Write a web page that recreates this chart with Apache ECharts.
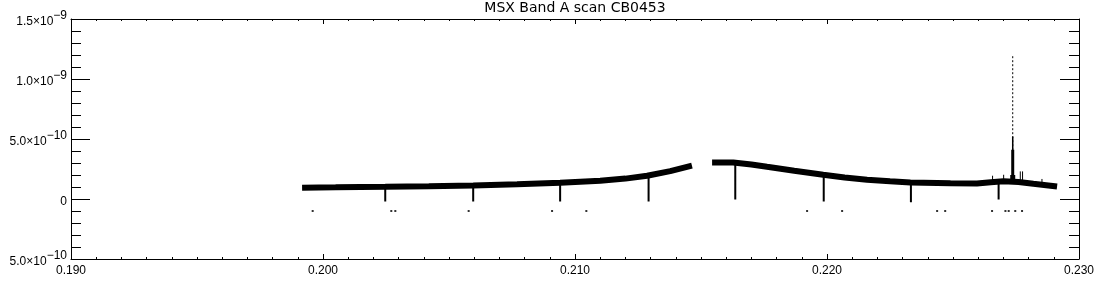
<!DOCTYPE html>
<html>
<head>
<meta charset="utf-8">
<script src="https://cdn.jsdelivr.net/npm/echarts@6/dist/echarts.min.js"></script>
<style>html,body{margin:0;padding:0;background:#fff}#c{width:1100px;height:300px}</style>
</head>
<body>
<div id="c"></div>
<script>
// ---- data ----
const titleText = 'MSX Band A scan CB0453';
const xTickLabels = ['0.190', '0.200', '0.210', '0.220', '0.230'];
const yTickMantissa = ['5.0×10', '0', '5.0×10', '1.0×10', '1.5×10'];
const yTickExponent = ['−10', '', '−10', '−9', '−9'];

// band centre (segment 1 and segment 2)
const band1X = [0.19917, 0.20050, 0.20247, 0.20420, 0.20596, 0.20770, 0.20941, 0.21100, 0.21200, 0.21286, 0.21378, 0.21464];
const band1Y = [0.94e-10, 0.97e-10, 1.02e-10, 1.07e-10, 1.13e-10, 1.22e-10, 1.36e-10, 1.52e-10, 1.70e-10, 1.94e-10, 2.32e-10, 2.78e-10];
const band2X = [0.21544, 0.21628, 0.21700, 0.21762, 0.21870, 0.21985, 0.22070, 0.22159, 0.22250, 0.22331, 0.22490, 0.22595, 0.22650, 0.22700, 0.22760, 0.22819, 0.22870, 0.22913];
const band2Y = [3.05e-10, 3.05e-10, 2.88e-10, 2.69e-10, 2.36e-10, 2.02e-10, 1.80e-10, 1.61e-10, 1.47e-10, 1.37e-10, 1.32e-10, 1.30e-10, 1.40e-10, 1.48e-10, 1.42e-10, 1.27e-10, 1.15e-10, 1.04e-10];

// dips below the band
const dipX = [0.20247, 0.20596, 0.20941, 0.21292, 0.21636, 0.21987, 0.22333, 0.22681];
const dipTop = [1.02e-10, 1.13e-10, 1.36e-10, 1.94e-10, 3.05e-10, 2.02e-10, 1.37e-10, 1.45e-10];
const dipBottom = [-0.2e-10, -0.2e-10, -0.2e-10, -0.2e-10, -0.05e-10, -0.2e-10, -0.28e-10, -0.05e-10];

// narrow noise spikes near the bright source
const noiseX = [0.22657, 0.22701, 0.22767, 0.22776, 0.22853];
const noiseBase = [1.35e-10, 1.40e-10, 1.40e-10, 1.40e-10, 1.25e-10];
const noiseTop = [1.94e-10, 2.02e-10, 2.30e-10, 2.30e-10, 1.67e-10];

// bright source spike
const spikeX = [0.22737];
const spikeBase = [1.40e-10];
const spikePeak = [1.20e-9];
const spikeCore = [5.2e-10];
const spikeThick = [4.1e-10];
const spikeFoot = [2.0e-10];

// isolated low points
const dotX = [0.19959, 0.20271, 0.20287, 0.20578, 0.20909, 0.21045, 0.21921, 0.22060, 0.22437, 0.22469, 0.22655, 0.22708, 0.22721, 0.22747, 0.22774];
const dotY = [-1.0e-10, -1.0e-10, -1.0e-10, -1.0e-10, -1.0e-10, -1.0e-10, -1.0e-10, -1.0e-10, -1.0e-10, -1.0e-10, -1.0e-10, -1.0e-10, -1.0e-10, -1.0e-10, -1.0e-10];

// ---- helpers ----
function zip(xs, ys) { return xs.map((x, i) => [x, ys[i]]); }
function segments(xs, lo, hi) {
  const out = [];
  xs.forEach((x, i) => { out.push([x, lo[i]]); out.push([x, hi[i]]); out.push(['-', '-']); });
  return out;
}
function segLine(data, width, type) {
  return {
    type: 'line', data: data, symbol: 'none', connectNulls: false, silent: true,
    lineStyle: { color: '#000', width: width, type: type || 'solid' }, z: 3
  };
}

const chart = echarts.init(document.getElementById('c'), null, { renderer: 'canvas' });
const axisCommon = {
  axisLine: { show: true, onZero: false, lineStyle: { color: '#000', width: 1 } },
  splitLine: { show: false },
};
const xBase = Object.assign({}, axisCommon, {
  type: 'value', min: 0.190, max: 0.230, interval: 0.010,
  axisTick: { show: true, inside: true, length: 5, lineStyle: { color: '#000' } },
  minorTick: { show: true, splitNumber: 10, length: 2, lineStyle: { color: '#000' } },
});
const yBase = Object.assign({}, axisCommon, {
  type: 'value', min: -5e-10, max: 1.5e-9, interval: 5e-10,
  axisTick: { show: true, inside: true, length: 19, lineStyle: { color: '#000' } },
  minorTick: { show: true, splitNumber: 5, length: 10, lineStyle: { color: '#000' } },
});

chart.setOption({
  animation: false,
  backgroundColor: '#fff',
  title: {
    text: titleText, left: 575, top: 1, padding: 0, textAlign: 'center',
    textStyle: { fontFamily: 'DejaVu Sans', fontSize: 14, fontWeight: 'normal', color: '#000' }
  },
  grid: { left: 71, right: 21, top: 19, bottom: 41 },
  xAxis: [
    Object.assign({}, xBase, {
      position: 'bottom',
      axisLabel: {
        show: true, margin: 6, color: '#000', fontFamily: 'Liberation Sans', fontSize: 12,
        formatter: v => xTickLabels[Math.round((v - 0.190) / 0.010)]
      }
    }),
    Object.assign({}, xBase, { position: 'top', axisLabel: { show: false } })
  ],
  yAxis: [
    Object.assign({}, yBase, {
      position: 'left',
      axisLabel: {
        show: true, margin: 4, color: '#000',
        formatter: v => {
          const i = Math.round(v / 5e-10) + 1;
          if (!yTickExponent[i]) return '{m|' + yTickMantissa[i] + '}';
          return '{m|' + yTickMantissa[i] + '}{s|' + yTickExponent[i] + '}';
        },
        rich: {
          m: { fontFamily: 'Liberation Sans', fontSize: 12, color: '#000', lineHeight: 18, verticalAlign: 'bottom' },
          s: { fontFamily: 'Liberation Sans', fontSize: 12, color: '#000', lineHeight: 12, verticalAlign: 'top' }
        }
      }
    }),
    Object.assign({}, yBase, { position: 'right', axisLabel: { show: false } })
  ],
  series: [
    segLine(zip(band1X, band1Y), 6),
    segLine(zip(band2X, band2Y), 6),
    segLine(segments(dipX, dipTop, dipBottom), 2),
    segLine(segments(noiseX, noiseBase, noiseTop), 1),
    segLine(segments(spikeX, spikeBase, spikePeak), 1, [2, 2]),
    segLine(segments(spikeX, spikeBase, spikeCore), 1.5),
    segLine(segments(spikeX, spikeBase, spikeThick), 3),
    segLine(segments(spikeX, spikeBase, spikeFoot), 5),
    {
      type: 'scatter', data: zip(dotX, dotY), symbol: 'rect', symbolSize: 2, silent: true,
      itemStyle: { color: '#000' }, z: 3
    }
  ]
});
</script>
</body>
</html>
